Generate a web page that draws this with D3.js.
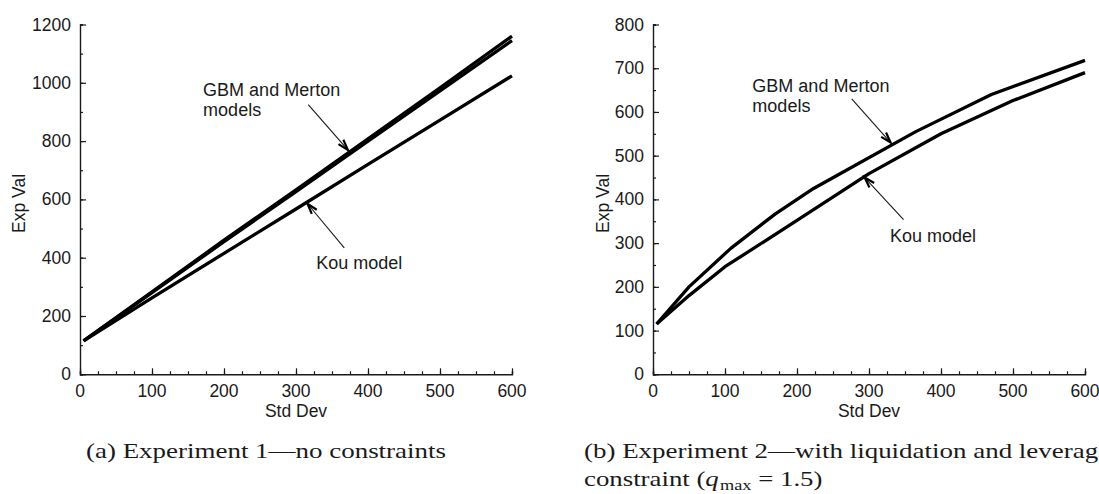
<!DOCTYPE html>
<html>
<head>
<meta charset="utf-8">
<script src="https://cdn.jsdelivr.net/npm/d3@7"></script>
<style>
  body { margin: 0; background: #fff; }
  svg { display: block; }
  .tick-label, .axis-title, .note { font-family: "Liberation Sans", Arial, sans-serif; fill: #1a1a1a; }
  .caption { font-family: "Liberation Serif", "Times New Roman", serif; fill: #1a1a1a; }
</style>
</head>
<body>
<div id="chart"></div>
<script>
// Experiment 1 (no constraints): expected value vs std dev
const exp1StdDev = [5, 100, 200, 300, 400, 500, 600];
const exp1Gbm    = [115, 283, 460, 633, 808, 983, 1160];
const exp1Merton = [115, 280, 455, 627, 800, 972, 1145];
const exp1Kou    = [115, 262, 415, 567, 720, 872, 1024];

// Experiment 2 (liquidation + leverage constraint)
const exp2GbmStdDev = [5, 50, 108, 170, 223, 365, 470, 600];
const exp2Gbm       = [115, 200, 288, 367, 425, 555, 640, 718];
const exp2KouStdDev = [5, 50, 100, 200, 300, 400, 500, 600];
const exp2Kou       = [115, 180, 246, 352, 459, 550, 626, 690];

// Axis ticks
const xTicks = [0, 100, 200, 300, 400, 500, 600];
const exp1YTicks = [0, 200, 400, 600, 800, 1000, 1200];
const exp2YTicks = [0, 100, 200, 300, 400, 500, 600, 700, 800];

const W = 1099, H = 494;
const svg = d3.select("#chart").append("svg")
    .attr("width", W)
    .attr("height", H)
    .attr("viewBox", `0 0 ${W} ${H}`);

function drawPanel(opts) {
    // Scales for the panel
    const x = d3.scaleLinear().domain([0, 600]).range([opts.left, opts.left + 432]);
    const y = d3.scaleLinear().domain([0, opts.yMax]).range([374.3, 24.5]);
    const g = svg.append("g");

    // Minor ticks (inward)
    const xAxis = d3.axisTop(x).tickValues(d3.range(0, 601, 25)).tickSize(3).tickFormat("");
    const yAxis = d3.axisRight(y).tickValues(d3.range(0, opts.yMax + 1, opts.yMinor)).tickSize(3).tickFormat("");
    const gx = g.append("g").attr("transform", `translate(0,${y(0)})`).call(xAxis);
    const gy = g.append("g").attr("transform", `translate(${x(0)},0)`).call(yAxis);
    [gx, gy].forEach(a => {
        a.select(".domain").attr("stroke", "#1a1a1a").attr("stroke-width", 1.4);
        a.selectAll(".tick line").attr("stroke", "#1a1a1a").attr("stroke-width", 1.2);
    });

    // Major ticks
    g.append("g").attr("transform", `translate(0,${y(0)})`)
        .call(d3.axisTop(x).tickValues(xTicks).tickSize(6).tickFormat(""))
        .call(a => a.select(".domain").remove())
        .selectAll(".tick line").attr("stroke", "#1a1a1a").attr("stroke-width", 1.2);
    g.append("g").attr("transform", `translate(${x(0)},0)`)
        .call(d3.axisRight(y).tickValues(opts.yTicks).tickSize(6).tickFormat(""))
        .call(a => a.select(".domain").remove())
        .selectAll(".tick line").attr("stroke", "#1a1a1a").attr("stroke-width", 1.2);

    // Tick labels
    g.selectAll(".xl").data(xTicks).enter().append("text")
        .attr("class", "tick-label")
        .attr("x", d => x(d)).attr("y", y(0) + 23)
        .attr("text-anchor", "middle").style("font-size", "17.5px")
        .text(d => d);
    g.selectAll(".yl").data(opts.yTicks).enter().append("text")
        .attr("class", "tick-label")
        .attr("x", x(0) - 9).attr("y", d => y(d) + 6)
        .attr("text-anchor", "end").style("font-size", "17.5px")
        .text(d => d);

    // Axis titles
    g.append("text").attr("class", "axis-title")
        .attr("x", x(300)).attr("y", 417)
        .attr("text-anchor", "middle").style("font-size", "17.5px")
        .text("Std Dev");
    g.append("text").attr("class", "axis-title")
        .attr("transform", `translate(${opts.yTitleX},${y(opts.yMax / 2) + 4}) rotate(-90)`)
        .attr("text-anchor", "middle").style("font-size", "17.5px")
        .text("Exp Val");

    // Curves
    const line = d3.line().x(d => x(d[0])).y(d => y(d[1]));
    opts.series.forEach(s => {
        g.append("path")
            .datum(d3.zip(s.xs, s.ys))
            .attr("d", line)
            .attr("fill", "none")
            .attr("stroke", "#000")
            .attr("stroke-width", 3.3)
            .attr("stroke-linejoin", "round");
    });

    // Annotations: text + arrow
    opts.notes.forEach(n => {
        n.lines.forEach((t, i) => {
            g.append("text").attr("class", "note")
                .attr("x", x(n.tx)).attr("y", y(n.ty) + i * 20)
                .style("font-size", "18px")
                .text(t);
        });
        const x1 = x(n.from[0]), y1 = y(n.from[1]);
        const x2 = x(n.to[0]), y2 = y(n.to[1]);
        g.append("line")
            .attr("x1", x1).attr("y1", y1).attr("x2", x2).attr("y2", y2)
            .attr("stroke", "#1a1a1a").attr("stroke-width", 1.1);
        const ang = Math.atan2(y2 - y1, x2 - x1);
        const len = 11, spread = 0.3;
        const head = d3.path();
        head.moveTo(x2 - len * Math.cos(ang - spread), y2 - len * Math.sin(ang - spread));
        head.lineTo(x2, y2);
        head.lineTo(x2 - len * Math.cos(ang + spread), y2 - len * Math.sin(ang + spread));
        g.append("path").attr("d", head.toString())
            .attr("fill", "none").attr("stroke", "#000")
            .attr("stroke-width", 2.2).attr("stroke-linejoin", "miter");
    });
}

drawPanel({
    left: 80, yMax: 1200, yMinor: 100, yTicks: exp1YTicks, yTitleX: 25,
    series: [
        { xs: exp1StdDev, ys: exp1Gbm },
        { xs: exp1StdDev, ys: exp1Merton },
        { xs: exp1StdDev, ys: exp1Kou }
    ],
    notes: [
        { lines: ["GBM and Merton", "models"], tx: 171, ty: 954, from: [317, 925], to: [372, 770] },
        { lines: ["Kou model"], tx: 328, ty: 362, from: [367, 434], to: [316, 585] }
    ]
});

drawPanel({
    left: 653, yMax: 800, yMinor: 50, yTicks: exp2YTicks, yTitleX: 609,
    series: [
        { xs: exp2GbmStdDev, ys: exp2Gbm },
        { xs: exp2KouStdDev, ys: exp2Kou }
    ],
    notes: [
        { lines: ["GBM and Merton", "models"], tx: 138, ty: 645, from: [276, 630], to: [330, 530] },
        { lines: ["Kou model"], tx: 329, ty: 303, from: [348, 354], to: [294, 450] }
    ]
});

// Sub-figure captions (serif, stretched to match the wider LaTeX font)
const capSize = "22px";
const capAWidth = 360;
const capA = svg.append("text").attr("class", "caption")
    .attr("x", 86).attr("y", 458)
    .style("font-size", capSize)
    .text("(a) Experiment 1\u2014no constraints");
const stretch = capAWidth / capA.node().getComputedTextLength();
capA.attr("textLength", capAWidth).attr("lengthAdjust", "spacingAndGlyphs");

const capB = svg.append("text").attr("class", "caption")
    .attr("x", 584).attr("y", 458)
    .style("font-size", capSize)
    .text("(b) Experiment 2\u2014with liquidation and leverage");
capB.attr("textLength", capB.node().getComputedTextLength() * stretch)
    .attr("lengthAdjust", "spacingAndGlyphs");

const capB2 = svg.append("text").attr("class", "caption")
    .attr("x", 584).attr("y", 486)
    .style("font-size", capSize);
capB2.append("tspan").text("constraint (");
capB2.append("tspan").style("font-style", "italic").text("q");
capB2.append("tspan").attr("dx", 1).attr("dy", 4).style("font-size", "15px").text("max");
capB2.append("tspan").attr("dy", -4).text(" = 1.5)");
capB2.attr("textLength", capB2.node().getComputedTextLength() * stretch)
    .attr("lengthAdjust", "spacingAndGlyphs");
</script>
</body>
</html>
